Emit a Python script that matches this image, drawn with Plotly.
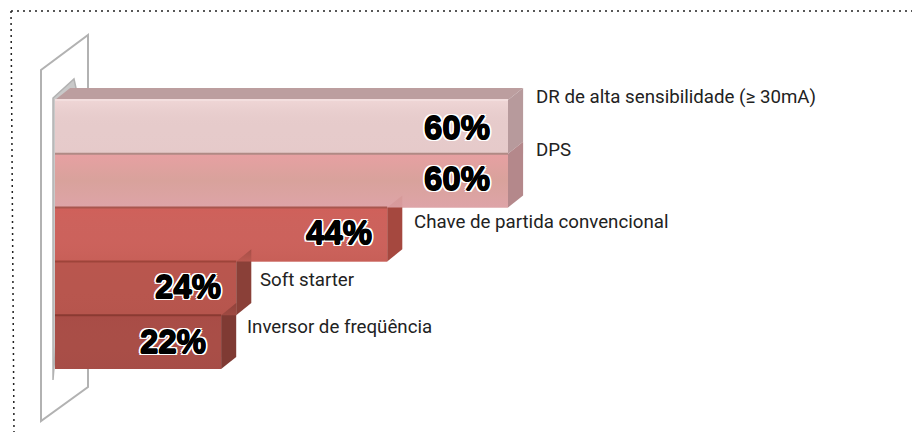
import plotly.graph_objects as go

# ---- data ----
categories = ["DR de alta sensibilidade (≥ 30mA)", "DPS", "Chave de partida convencional",
              "Soft starter", "Inversor de freqüência"]
values = [60, 60, 44, 24, 22]
value_labels = ["60%", "60%", "44%", "24%", "22%"]
positions = [0, 1, 2, 3, 4]

# ---- styles ----
W, H = 917, 435
X0_PX, PX_PER_UNIT = 55, 7.55
Y0_PX, PX_PER_BAR = 100, 53.8
DEPTH_X, DEPTH_Y = 2.0, 0.225
front_colors = ["#E6CBCB", "#DCA2A2", "#CC625C", "#B8564E", "#A94E47"]
shade_top = ["rgba(240,215,215,0.9)", "rgba(232,160,162,0.9)", "rgba(208,96,90,0.9)",
             "rgba(186,86,78,0.9)", "rgba(168,76,70,0.9)"]
shade_mid = ["rgba(230,203,203,0)", "rgba(216,162,155,0.9)", "rgba(204,100,94,0)",
             "rgba(184,86,78,0)", "rgba(170,78,72,0)"]
shade_bot = ["rgba(229,200,200,0.5)", "rgba(222,164,168,0.9)", "rgba(198,94,86,0.8)",
             "rgba(180,84,76,0.6)", "rgba(164,76,70,0.6)"]
edge_colors = ["#F3DEDE", "#B08A85", "#A8564E", "#9E443A", "#8A3A32"]
side_colors = ["#B79A9C", "#B4888B", "#A5483F", "#8A4038", "#7F3A33"]
top_color = "#BC9E9F"
label_xshift = [26, 26, 25, 22, 24]
label_ypx = [97, 150, 222, 280, 327]
pct_xshift = [-16, -16, -13, -13, -13]
pct_yshift = [-1, 2, 2, 2, 1]
STROKE = [(-.6, 0), (.6, 0), (0, -.6), (0, .6)]
HALO = [(-2.2, 0), (2.2, 0), (0, -2.2), (0, 2.2), (-1.7, -1.7), (1.7, -1.7), (-1.7, 1.7), (1.7, 1.7)]
OUTLINE = ",".join([f"{a}px {b}px 0 #000" for a, b in STROKE] + [f"{a}px {b}px 0 #fff" for a, b in HALO])


def px(x):
    return x / W


def py(y):
    return 1 - y / H


fig = go.Figure()

# top face of the first bar
fig.add_trace(go.Scatter(
    x=[0, values[0], values[0] + DEPTH_X, DEPTH_X, 0],
    y=[positions[0] - .5, positions[0] - .5, positions[0] - .5 - DEPTH_Y, positions[0] - .5 - DEPTH_Y, positions[0] - .5],
    mode="lines", line=dict(width=0), fill="toself", fillcolor=top_color, hoverinfo="skip", showlegend=False))

# side faces
for p, v, c in zip(positions, values, side_colors):
    fig.add_trace(go.Scatter(
        x=[v, v + DEPTH_X, v + DEPTH_X, v, v],
        y=[p - .5, p - .5 - DEPTH_Y, p + .5 - DEPTH_Y, p + .5, p - .5],
        mode="lines", line=dict(width=0), fill="toself", fillcolor=c, hoverinfo="skip", showlegend=False))

# front faces
fig.add_trace(go.Bar(
    x=values, y=positions, orientation="h", width=1,
    marker=dict(color=front_colors, line=dict(width=0)),
    hoverinfo="skip", showlegend=False))

# vertical shading on the front faces
for p, v, t, m, b in zip(positions, values, shade_top, shade_mid, shade_bot):
    fig.add_trace(go.Scatter(
        x=[0, v, v, 0, 0], y=[p - .5, p - .5, p + .5, p + .5, p - .5],
        mode="lines", line=dict(width=0), fill="toself",
        fillgradient=dict(type="vertical", colorscale=[[0, b], [0.5, m], [1, t]]),
        hoverinfo="skip", showlegend=False))

# top edge line of each front face
for p, v, c in zip(positions, values, edge_colors):
    fig.add_trace(go.Scatter(
        x=[0, v], y=[p - .5, p - .5], mode="lines", line=dict(color=c, width=2),
        hoverinfo="skip", showlegend=False))

annotations = []
for p, v, cat, lab, lx, ly, sx, sy in zip(positions, values, categories, value_labels,
                                          label_xshift, label_ypx, pct_xshift, pct_yshift):
    annotations.append(dict(
        x=v, y=py(ly), xref="x", yref="paper", xanchor="left", yanchor="middle", xshift=lx, text=cat,
        showarrow=False, font=dict(family="Roboto", size=18.7, color="#222")))
    annotations.append(dict(
        x=v, y=p, xref="x", yref="y", xanchor="right", yanchor="middle", xshift=sx, yshift=sy, text=lab,
        showarrow=False, font=dict(family="Liberation Sans", size=33, color="#000", weight="bold", shadow=OUTLINE)))

GREY = "#B2B2B2"
shapes = [
    # dotted frame
    dict(type="line", xref="paper", yref="paper", x0=px(11), x1=px(912), y0=py(11), y1=py(11),
         line=dict(color="#222", width=1.5, dash="2px,4px")),
    dict(type="line", xref="paper", yref="paper", x0=px(11), x1=px(14), y0=py(11), y1=py(432),
         line=dict(color="#222", width=1.5, dash="2px,4px")),
    # glass panel behind the bars
    dict(type="path", xref="paper", yref="paper", layer="below",
         path=f"M {px(88)} {py(88)} L {px(88)} {py(35)} L {px(41)} {py(70)} L {px(41)} {py(421)} "
              f"L {px(88)} {py(387)} L {px(88)} {py(369)}",
         line=dict(color=GREY, width=2)),
    dict(type="path", xref="paper", yref="paper", layer="below",
         path=f"M {px(53)} {py(380)} L {px(53)} {py(98)} L {px(74)} {py(79)} L {px(76)} {py(88)} Z",
         line=dict(color=GREY, width=1.5), fillcolor="rgba(178,178,178,0.7)"),
]

fig.update_layout(
    width=W, height=H, margin=dict(l=0, r=0, t=0, b=0),
    paper_bgcolor="white", plot_bgcolor="rgba(0,0,0,0)",
    barmode="overlay", showlegend=False,
    xaxis=dict(range=[-X0_PX / PX_PER_UNIT, (W - X0_PX) / PX_PER_UNIT], visible=False, fixedrange=True),
    yaxis=dict(range=[(H - Y0_PX) / PX_PER_BAR - .5, -Y0_PX / PX_PER_BAR - .5], visible=False, fixedrange=True),
    annotations=annotations, shapes=shapes)

fig.write_html("out.html", config=dict(displayModeBar=False),
               post_script="document.body.style.margin='0';document.body.style.overflow='hidden';")
